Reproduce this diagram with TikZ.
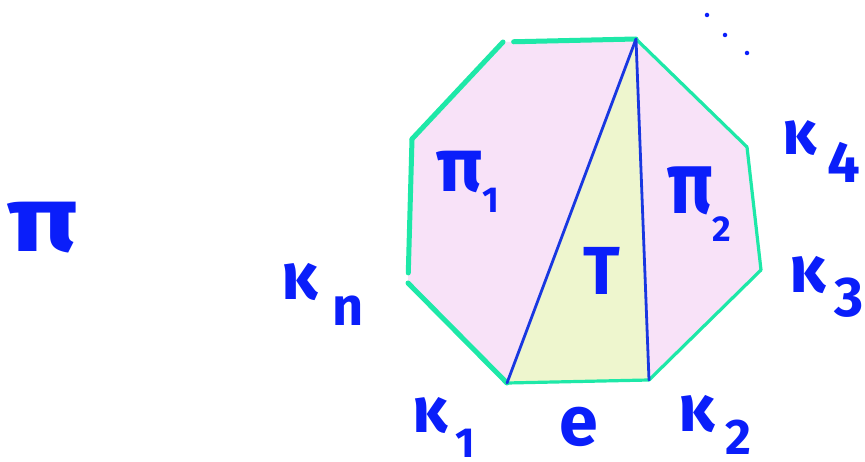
\documentclass[tikz,border=0pt]{standalone}
\usepackage{fontspec}
\setmainfont{Fira Sans}
\usetikzlibrary{calc}
\definecolor{edgegreen}{RGB}{30,232,168}
\definecolor{pinkfill}{RGB}{248,226,248}
\definecolor{trifill}{RGB}{238,246,206}
\definecolor{diagblue}{RGB}{25,55,225}
\definecolor{inkblue}{RGB}{10,30,250}
\newcommand{\fs}[1]{\bfseries\fontsize{#1}{#1}\selectfont}
\tikzset{
  edge/.style={draw=edgegreen, line width=5pt, line cap=round},
  thinedge/.style={draw=edgegreen, line width=3.2pt, line cap=round},
  diag/.style={draw=diagblue, line width=2.8pt, line cap=round},
  lab/.style={text=inkblue, inner sep=0pt},
  dotmark/.style={circle, fill=inkblue, inner sep=0pt, minimum size=4.5pt}
}
\begin{document}
\begin{tikzpicture}[x=1pt,y=-1pt]
\useasboundingbox (0,0) rectangle (865,462);
% vertices
\coordinate (tl) at (503,42);
\coordinate (tr) at (636,39);
\coordinate (ru) at (747,147);
\coordinate (rl) at (761,270);
\coordinate (br) at (649,380);
\coordinate (bl) at (507,383);
\coordinate (ll) at (408,283);
\coordinate (lu) at (412,139);
% fills
\fill[pinkfill] (tl) -- (tr) -- (ru) -- (rl) -- (br) -- (bl) -- (ll) -- (lu) -- cycle;
\fill[trifill] (tr) -- (br) -- (bl) -- cycle;
% edges
\draw[edge] (tl) -- (lu);
\draw[edge] (lu) -- ($(lu)!0.93!(ll)$);
\draw[edge] (ll) -- (bl);
\draw[thinedge] (bl) -- (br);
\draw[thinedge] (br) -- (rl);
\draw[thinedge] (rl) -- (ru);
\draw[thinedge] (ru) -- (tr);
\draw[edge] ($(tl)!0.08!(tr)$) -- (tr);
% diagonals
\draw[diag] (tr) -- (bl);
\draw[diag] (tr) -- (br);
% dots
\node[dotmark] (d1) at (707,15) {};
\node[dotmark] (d2) at (725,35) {};
\node[dotmark] (d3) at (747,53) {};
% labels
\node[lab, font=\fs{93}] (pi) at (43,228) {\scalebox{1.25}[1]{π}};
\node[lab, font=\fs{66}] (kn) at (300,282) {κ};
\node[lab, font=\fs{54}] (kns) at (348,311) {n};
\node[lab, font=\fs{64}] (k1) at (430,416) {κ};
\node[lab, font=\fs{42}] (k1s) at (465,443) {1};
\node[lab, font=\fs{70}] (e) at (579,427) {e};
\node[lab, font=\fs{66}] (k2) at (697,414) {κ};
\node[lab, font=\fs{50}] (k2s) at (738,437) {2};
\node[lab, font=\fs{66}] (k3) at (808,275) {κ};
\node[lab, font=\fs{56}] (k3s) at (849,298) {3};
\node[lab, font=\fs{62}] (k4) at (800,138) {κ};
\node[lab, font=\fs{58}] (k4s) at (844,162) {4};
\node[lab, font=\fs{76}] (pi1) at (460,172) {π};
\node[lab, font=\fs{36}] (pi1s) at (491,200) {1};
\node[lab, font=\fs{88}] (pi2) at (690,191) {\scalebox{0.85}[1]{π}};
\node[lab, font=\fs{36}] (pi2s) at (722,229) {2};
\node[lab, font=\fs{68}] (t) at (602,271) {T};
\end{tikzpicture}
\end{document}
